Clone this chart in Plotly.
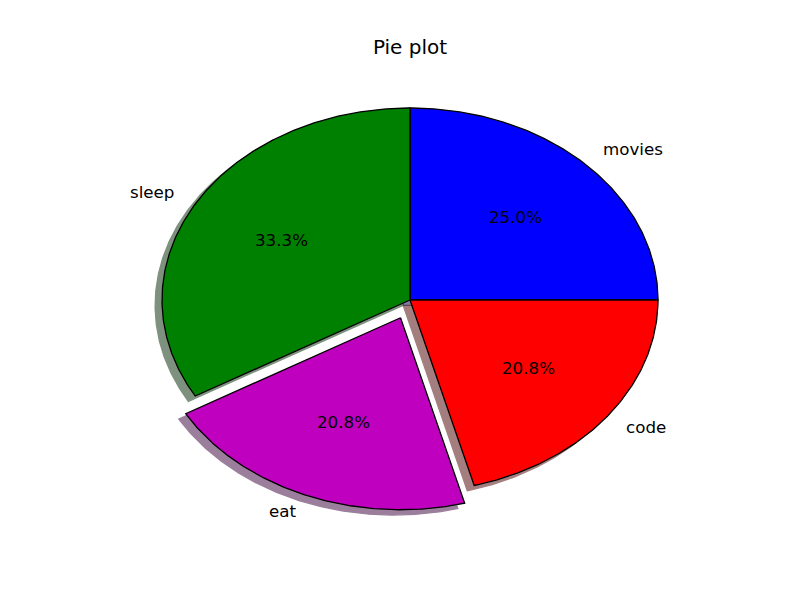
import numpy as np
import plotly.graph_objects as go

labels = ["movies", "sleep", "eat", "code"]
values = [6, 8, 5, 5]
explode = [0, 0, 0.1, 0]
colors = ["#0000ff", "#008000", "#bf00bf", "#ff0000"]
title = "Pie plot"

FONT = "DejaVu Sans"
start_angle = 0.0
shadow_off = -0.02 * 100 / 72.0


def darken(hexc, f=0.3):
    h = hexc.lstrip("#")
    r, g, b = (int(h[i:i + 2], 16) for i in (0, 2, 4))
    return "rgb(%d,%d,%d)" % (r * f, g * f, b * f)


total = float(sum(values))
wedges = []
theta1 = start_angle
for lab, v, ex, col in zip(labels, values, explode, colors):
    theta2 = theta1 + 360.0 * v / total
    thetam = np.deg2rad((theta1 + theta2) / 2.0)
    cx = ex * np.cos(thetam)
    cy = ex * np.sin(thetam)
    n = max(int(abs(theta2 - theta1)) * 2, 4)
    t = np.deg2rad(np.linspace(theta1, theta2, n))
    xs = np.concatenate([[cx], cx + np.cos(t), [cx]])
    ys = np.concatenate([[cy], cy + np.sin(t), [cy]])
    wedges.append(dict(label=lab, value=v, color=col, xs=xs, ys=ys,
                       cx=cx, cy=cy, thetam=thetam))
    theta1 = theta2

fig = go.Figure()

# shadows
for w in wedges:
    sc = darken(w["color"])
    fig.add_trace(go.Scatter(
        x=w["xs"] + shadow_off, y=w["ys"] + shadow_off, mode="lines",
        fill="toself", fillcolor=sc, line=dict(color=sc, width=1.3),
        opacity=0.5, hoverinfo="skip", showlegend=False))

# wedges
for w in wedges:
    fig.add_trace(go.Scatter(
        x=w["xs"], y=w["ys"], mode="lines", fill="toself",
        fillcolor=w["color"], line=dict(color="black", width=1.3),
        hoverinfo="skip", showlegend=False))

annotations = []
for w in wedges:
    lx = w["cx"] + 1.1 * np.cos(w["thetam"])
    ly = w["cy"] + 1.1 * np.sin(w["thetam"])
    annotations.append(dict(
        x=lx, y=ly, xref="x", yref="y", text=w["label"], showarrow=False,
        xanchor="left" if lx > 0 else "right", yanchor="middle",
        borderpad=0, borderwidth=0, yshift=2,
        font=dict(family=FONT, size=16.7, color="black")))
    px = w["cx"] + 0.6 * np.cos(w["thetam"])
    py = w["cy"] + 0.6 * np.sin(w["thetam"])
    annotations.append(dict(
        x=px, y=py, xref="x", yref="y",
        text="%1.1f%%" % (100.0 * w["value"] / total), showarrow=False,
        xanchor="center", yanchor="middle",
        borderpad=0, borderwidth=0, yshift=2,
        font=dict(family=FONT, size=16.7, color="black")))

fig.update_layout(
    width=800, height=600,
    margin=dict(l=92, r=88, t=52, b=68, pad=0),
    paper_bgcolor="white", plot_bgcolor="white",
    xaxis=dict(range=[-1.25, 1.25], visible=False, fixedrange=True),
    yaxis=dict(range=[-1.25, 1.25], visible=False, fixedrange=True),
    title=dict(text=title, x=0.5, xref="paper", xanchor="center",
               y=1 - 39 / 600.0, yref="container", yanchor="middle",
               font=dict(family=FONT, size=20, color="black")),
    annotations=annotations,
    showlegend=False,
)

fig.write_html("out.html")
